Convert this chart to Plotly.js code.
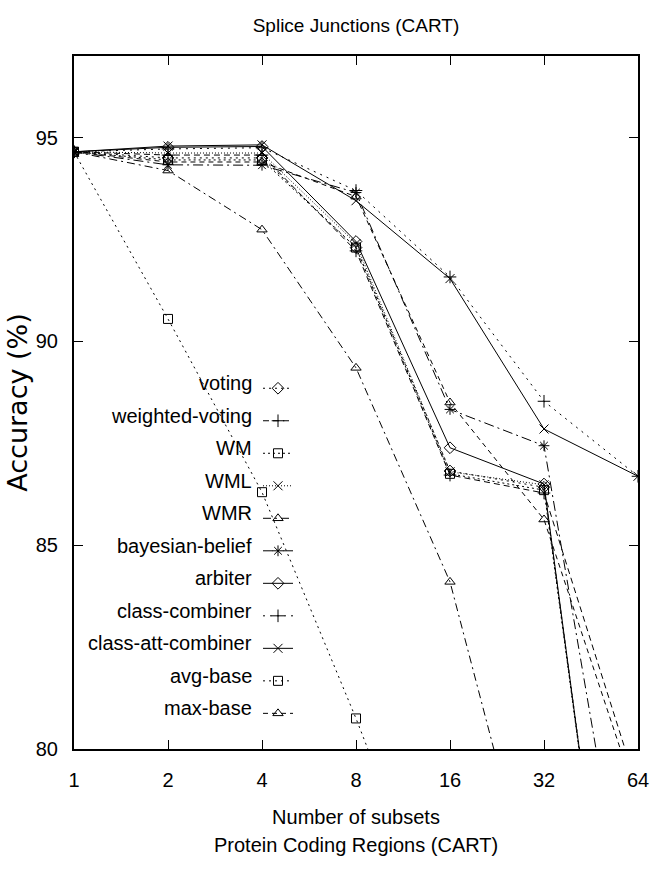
<!DOCTYPE html>
<html>
<head>
<meta charset="utf-8">
<script src="https://cdn.plot.ly/plotly-3.0.1.min.js"></script>
<style>html,body{margin:0;padding:0;background:#fff;}#chart{width:665px;height:871px;}</style>
</head>
<body>
<div id="chart"></div>
<script>
// ---- data ----
const subsets = [1, 2, 4, 8, 16, 32, 64];
const tickLabels = ["1", "2", "4", "8", "16", "32", "64"];
const seriesNames = ["voting", "weighted-voting", "WM", "WML", "WMR", "bayesian-belief",
  "arbiter", "class-combiner", "class-att-combiner", "avg-base", "max-base"];
const voting          = [94.65, 94.50, 94.50, 92.30, 86.82, 86.42, 69.4];
const weightedVoting  = [94.65, 94.57, 94.57, 92.22, 86.72, 86.28, 79.0];
const wm              = [94.65, 94.45, 94.45, 92.30, 86.75, 86.35, 69.3];
const wml             = [94.65, 94.62, 94.62, 92.40, 86.80, 86.48, 69.0];
const wmr             = [94.65, 94.19, 92.74, 89.35, 84.10, 75.3, null];
const bayesianBelief  = [94.65, 94.33, 94.32, 93.65, 88.33, 87.44, 74.0];
const arbiter         = [94.65, 94.76, 94.78, 92.45, 87.39, 86.50, 69.2];
const classCombiner   = [94.65, 94.72, 94.75, 93.70, 91.58, 88.53, 86.69];
const classAttComb    = [94.65, 94.79, 94.82, 93.45, 91.54, 87.85, 86.69];
const avgBase         = [94.65, 90.55, 86.30, 80.75, 74.8, null, null];
const maxBase         = [94.65, 94.40, 94.40, 93.55, 88.50, 85.63, 78.7];
const yTickVals = [80, 85, 90, 95];
const yTickLabels = ["80", "85", "90", "95"];

const allValues = [voting, weightedVoting, wm, wml, wmr, bayesianBelief,
  arbiter, classCombiner, classAttComb, avgBase, maxBase];

// ---- styles ----
const dashes = ["2px,4px", "6px,4px", "2px,3px", "1px,2px", "8px,4px,2px,4px", "10px,4px,2px,4px",
  "solid", "2px,5px", "solid", "2px,4px", "5px,4px"];
const symbols = ["diamond-open", "cross-thin-open", "square-open", "x-thin-open", "triangle-up-open",
  "asterisk-open", "diamond-open", "cross-thin-open", "x-thin-open", "square-open", "triangle-up-open"];

const sans = "Liberation Sans, Arial, Helvetica, sans-serif";

const traces = allValues.map((vals, i) => ({
  x: subsets, y: vals, type: "scatter", mode: "lines+markers",
  name: " ", legendgroup: seriesNames[i],
  hovertext: seriesNames[i],
  line: {color: "#000", width: 1, dash: dashes[i]},
  marker: {symbol: symbols[i], size: 9, color: "#000", line: {color: "#000", width: 1}},
  connectgaps: false
}));

// legend labels (text to the left of the samples)
const legendTop = 383, legendStep = 32.5, plotTop = 56, plotBottom = 749;
const plotH = plotBottom - plotTop;
const annotations = seriesNames.map((n, i) => ({
  text: n, xref: "paper", yref: "paper", x: (254 - 74) / 564,
  y: (plotBottom - (legendTop + i * legendStep)) / plotH,
  xanchor: "right", yanchor: "middle", showarrow: false,
  font: {family: sans, size: 20, color: "#000"}
}));
annotations.push({
  text: "Protein Coding Regions (CART)", xref: "paper", yref: "paper",
  x: 0.5, y: (plotBottom - 845) / plotH, xanchor: "center", yanchor: "middle",
  showarrow: false, font: {family: sans, size: 20, color: "#000"}
});

const layout = {
  width: 665, height: 871,
  margin: {l: 74, r: 27, t: 56, b: 122},
  paper_bgcolor: "#fff", plot_bgcolor: "#fff",
  font: {family: sans, color: "#000"},
  title: {text: "Splice Junctions (CART)", xref: "paper", x: 0.5, yref: "container",
    y: 1 - 25 / 871, yanchor: "middle", font: {family: sans, size: 19, color: "#000"}},
  xaxis: {
    type: "log", range: [0, Math.log10(64)],
    tickvals: subsets, ticktext: tickLabels,
    ticks: "inside", ticklen: 9, tickwidth: 1, tickcolor: "#000",
    mirror: "ticks", showline: true, linewidth: 2, linecolor: "#000",
    showgrid: false, zeroline: false,
    tickfont: {family: sans, size: 20, color: "#000"},
    ticklabelstandoff: 12,
    title: {text: "Number of subsets", standoff: 20, font: {family: sans, size: 20, color: "#000"}}
  },
  yaxis: {
    range: [80, 97], tickvals: yTickVals, ticktext: yTickLabels,
    ticks: "inside", ticklen: 9, tickwidth: 1, tickcolor: "#000",
    mirror: "ticks", showline: true, linewidth: 2, linecolor: "#000",
    showgrid: false, zeroline: false,
    tickfont: {family: sans, size: 20, color: "#000"},
    ticklabelstandoff: 10,
    title: {text: "Accuracy (%)", standoff: 0, font: {family: "DejaVu Sans, sans-serif", size: 27, color: "#000"}}
  },
  showlegend: true,
  legend: {
    x: (258 - 74) / 564, xanchor: "left",
    y: (plotBottom - 367) / plotH, yanchor: "top",
    bgcolor: "rgba(0,0,0,0)", borderwidth: 0,
    font: {family: sans, size: 22.7, color: "#000"},
    itemwidth: 30, traceorder: "normal"
  },
  annotations: annotations
};

Plotly.newPlot("chart", traces, layout, {displayModeBar: false, staticPlot: true});
</script>
</body>
</html>
